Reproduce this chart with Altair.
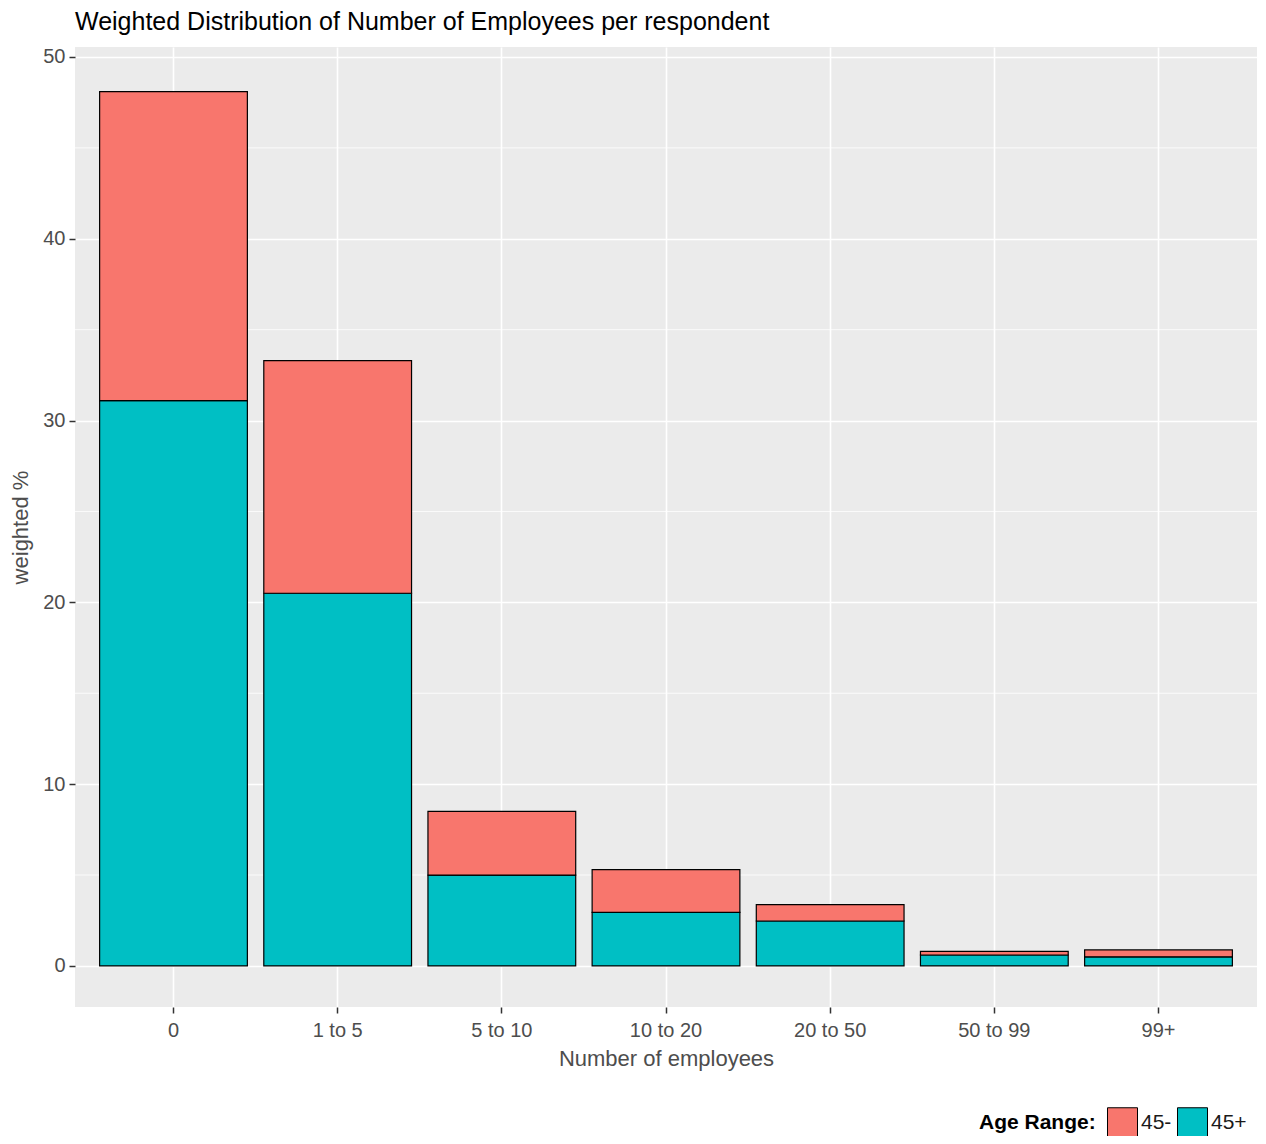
import altair as alt
import pandas as pd

categories = ["0", "1 to 5", "5 to 10", "10 to 20", "20 to 50", "50 to 99", "99+"]
age_45_plus = [31.1, 20.5, 5.0, 2.95, 2.47, 0.6, 0.5]
age_45_minus = [17.0, 12.8, 3.5, 2.35, 0.9, 0.2, 0.38]
age_levels = ["45-", "45+"]
age_colors = ["#F8766D", "#00BFC4"]
minor_grid = [5, 15, 25, 35, 45]
major_y = [0, 10, 20, 30, 40, 50]

rows = []
for c, v in zip(categories, age_45_plus):
    rows.append({"cat": c, "age": "45+", "val": v, "ord": 0})
for c, v in zip(categories, age_45_minus):
    rows.append({"cat": c, "age": "45-", "val": v, "ord": 1})
df = pd.DataFrame(rows)

FONT = "Liberation Sans"
W, H = 1182, 960
ydom = [-2.26, 50.55]

minor = alt.Chart(pd.DataFrame({"y": minor_grid})).mark_rule(
    color="white", strokeWidth=0.8
).encode(y=alt.Y("y:Q", scale=alt.Scale(domain=ydom, nice=False, zero=False)))

bars = alt.Chart(df).mark_bar(stroke="black", strokeWidth=1.2).encode(
    x=alt.X(
        "cat:N",
        sort=categories,
        scale=alt.Scale(paddingInner=0.1, paddingOuter=0.15),
        axis=alt.Axis(
            title="Number of employees",
            labelAngle=0,
            bandPosition=0.5,
            grid=True,
            gridColor="white",
            gridWidth=1.6,
            domain=False,
            tickColor="#333333",
            tickSize=6,
            tickWidth=1.5,
            labelColor="#4D4D4D",
            labelFontSize=20,
            labelFont=FONT,
            labelPadding=7,
            titleFont=FONT,
            titleFontSize=22,
            titleFontWeight="normal",
            titleColor="#4D4D4D",
            titlePadding=8,
        ),
    ),
    y=alt.Y(
        "val:Q",
        stack="zero",
        scale=alt.Scale(domain=ydom, nice=False, zero=False),
        axis=alt.Axis(
            title="weighted %",
            values=major_y,
            grid=True,
            gridColor="white",
            gridWidth=1.6,
            domain=False,
            tickColor="#333333",
            tickSize=6,
            tickWidth=1.5,
            labelColor="#4D4D4D",
            labelFontSize=20,
            labelFont=FONT,
            labelPadding=4,
            titleFont=FONT,
            titleFontSize=22,
            titleFontWeight="normal",
            titleColor="#4D4D4D",
            titlePadding=10,
        ),
    ),
    color=alt.Color(
        "age:N",
        scale=alt.Scale(domain=age_levels, range=age_colors),
        legend=alt.Legend(
            title="Age Range:",
            orient="none",
            legendX=904,
            legendY=1060,
            direction="horizontal",
            titleOrient="left",
            titleFont=FONT,
            titleFontSize=21,
            titleFontWeight="bold",
            titleColor="black",
            titlePadding=11,
            symbolType="square",
            symbolSize=900,
            symbolStrokeColor="black",
            symbolStrokeWidth=1,
            symbolOpacity=1,
            labelFont=FONT,
            labelFontSize=21,
            labelColor="#1a1a1a",
            labelOffset=3,
            columnPadding=3,
        ),
    ),
    order=alt.Order("ord:Q"),
)

chart = alt.layer(minor, bars).properties(
    width=W,
    height=H,
    title=alt.TitleParams(
        "Weighted Distribution of Number of Employees per respondent",
        anchor="start",
        frame="group",
        font=FONT,
        fontSize=25,
        fontWeight="normal",
        color="black",
        offset=12,
    ),
    autosize=alt.AutoSizeParams(type="none"),
    padding={"left": 67, "top": 39, "right": 1, "bottom": 129},
).configure(background="white").configure_view(fill="#EBEBEB", stroke=None)

chart.save("out.html", embed_options={"renderer": "svg", "actions": False})
